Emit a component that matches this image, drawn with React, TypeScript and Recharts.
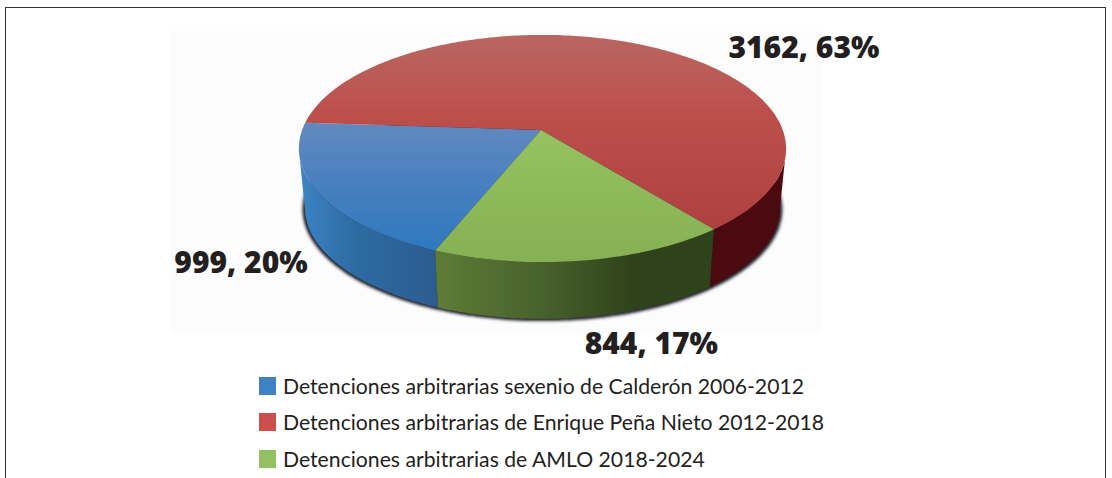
import React from 'react';
import { PieChart, Pie, Cell, Legend } from 'recharts';

const seriesNames = [
  'Detenciones arbitrarias sexenio de Calderón 2006-2012',
  'Detenciones arbitrarias de Enrique Peña Nieto 2012-2018',
  'Detenciones arbitrarias de AMLO 2018-2024',
];
const seriesValues = [999, 3162, 844];
const swatchColors = ['#3f82c4', '#cb4f4b', '#93c160'];

const data = seriesNames.map((name, i) => ({ name, value: seriesValues[i] }));

// tilt of the disc: perspective factors and the two projected radii, per unit of radius
const PERSP = 0.163;
const PERSP_X = -0.006;
const KX = 0.993;
const KY = 0.457;
const WALL = 60;
const WALL_SCALE = 0.975;

const TOP_FILL = ['url(#topBlue)', 'url(#topRed)', 'url(#topGreen)'];
const WALL_FILL = ['url(#wallBlue)', '#4a0a10', 'url(#wallGreen)'];
const LABEL_SHIFT = [
  [-145, 79],
  [90, 14],
  [2, 93],
];

const project = (cx: number, cy: number, r: number, deg: number) => {
  const a = (deg * Math.PI) / 180;
  const d = 1 + PERSP * Math.sin(a) + PERSP_X * Math.cos(a);
  return { x: cx + (r * KX * Math.cos(a)) / d, y: cy - (r * KY * Math.sin(a)) / d };
};

const arcPoints = (start: number, end: number) => {
  const n = Math.max(2, Math.ceil(Math.abs(end - start)));
  return Array.from({ length: n + 1 }, (_, i) => start + ((end - start) * i) / n);
};

const toPath = (pts: { x: number; y: number }[]) =>
  'M' + pts.map((p) => `${p.x.toFixed(1)},${p.y.toFixed(1)}`).join('L') + 'Z';

const Slice3D = (props: any) => {
  const { cx, cy, outerRadius: r, startAngle, endAngle, index } = props;
  const angles = arcPoints(startAngle, endAngle);
  const rim = angles.map((a) => project(cx, cy, r, a));
  const top = toPath([{ x: cx, y: cy }, ...rim]);

  const front = angles.filter((a) => Math.sin((a * Math.PI) / 180) < -PERSP);
  const lower = (a: number) => project(cx, cy + WALL, r * WALL_SCALE, a);
  const wall = front.length
    ? toPath([...front.map((a) => project(cx, cy, r, a)), ...[...front].reverse().map(lower)])
    : null;

  const shadow =
    index === 0
      ? toPath(arcPoints(0, 360).map((a) => project(cx, cy + WALL + 1, r * 0.985, a)))
      : null;

  return (
    <g>
      {shadow && <path d={shadow} fill="#20222e" filter="url(#soft)" />}
      {wall && <path d={wall} fill={WALL_FILL[index]} />}
      <path d={top} fill={TOP_FILL[index]} />
    </g>
  );
};

const renderLabel = (props: any) => {
  const { cx, cy, outerRadius, midAngle, value, percent, index } = props;
  const p = project(cx, cy, outerRadius, midAngle);
  return (
    <text
      x={p.x + LABEL_SHIFT[index][0]}
      y={p.y + LABEL_SHIFT[index][1]}
      textAnchor="start"
      fontFamily="'Open Sans', sans-serif"
      fontWeight={800}
      fontSize={30}
      fill="#231f20"
    >
      {`${value}, ${Math.round(percent * 100)}%`}
    </text>
  );
};

const renderLegend = () => (
  <div>
    {seriesNames.map((name, i) => (
      <div key={name} style={{ display: 'flex', alignItems: 'center', height: 36.3 }}>
        <span
          style={{
            width: 17,
            height: 18,
            marginRight: 7,
            flex: 'none',
            background: swatchColors[i],
          }}
        />
        <span
          style={{
            fontFamily: "'Lato', sans-serif",
            fontSize: 21.2,
            color: '#231f20',
            whiteSpace: 'nowrap',
          }}
        >
          {name}
        </span>
      </div>
    ))}
  </div>
);

export default function App() {
  return (
    <div style={{ position: 'absolute', left: 0, top: 0, width: 1112, height: 478, background: '#fff' }}>
      <div
        style={{
          position: 'absolute',
          left: 5,
          top: 7,
          width: 1099,
          height: 471,
          borderTop: '1.5px solid #333',
          borderLeft: '1.5px solid #333',
          borderRight: '1.5px solid #333',
        }}
      />
      <div style={{ position: 'absolute', left: 171, top: 31, width: 651, height: 302, background: '#fcfcfc' }} />
      <div style={{ position: 'absolute', left: 0, top: 0 }}>
        <PieChart width={1112} height={478} margin={{ top: 0, right: 0, bottom: 0, left: 0 }}>
          <defs>
            <filter id="soft" x="-5%" y="-5%" width="110%" height="110%">
              <feGaussianBlur stdDeviation="1.4" />
            </filter>
            <linearGradient id="topBlue" gradientUnits="userSpaceOnUse" x1="0" y1="120" x2="0" y2="250">
              <stop offset="0" stopColor="#6389bf" />
              <stop offset="0.5" stopColor="#4880c0" />
              <stop offset="1" stopColor="#2f79bd" />
            </linearGradient>
            <linearGradient id="topRed" gradientUnits="userSpaceOnUse" x1="0" y1="36" x2="0" y2="230">
              <stop offset="0" stopColor="#b96662" />
              <stop offset="0.4" stopColor="#bd4f4b" />
              <stop offset="1" stopColor="#ae4140" />
            </linearGradient>
            <linearGradient id="topGreen" gradientUnits="userSpaceOnUse" x1="0" y1="130" x2="0" y2="263">
              <stop offset="0" stopColor="#96c260" />
              <stop offset="1" stopColor="#86b054" />
            </linearGradient>
            <linearGradient id="wallBlue" gradientUnits="userSpaceOnUse" x1="300" y1="0" x2="437" y2="0">
              <stop offset="0" stopColor="#3c84c4" />
              <stop offset="0.4" stopColor="#2d6ba3" />
              <stop offset="1" stopColor="#2c5c8f" />
            </linearGradient>
            <linearGradient id="wallGreen" gradientUnits="userSpaceOnUse" x1="436" y1="0" x2="712" y2="0">
              <stop offset="0" stopColor="#5f7c37" />
              <stop offset="0.4" stopColor="#46602b" />
              <stop offset="0.72" stopColor="#2e4319" />
              <stop offset="1" stopColor="#2e4319" />
            </linearGradient>
          </defs>
          <Pie
            data={data}
            dataKey="value"
            nameKey="name"
            cx={541}
            cy={130}
            outerRadius={242}
            startAngle={248}
            endAngle={-112}
            paddingAngle={0}
            stroke="none"
            shape={Slice3D}
            label={renderLabel}
            labelLine={false}
            isAnimationActive={false}
          >
            {data.map((d, i) => (
              <Cell key={d.name} fill={swatchColors[i]} />
            ))}
          </Pie>
          <Legend
            layout="horizontal"
            align="left"
            verticalAlign="bottom"
            content={renderLegend}
            wrapperStyle={{ left: 259, top: 368, bottom: 'auto', width: 600 }}
          />
        </PieChart>
      </div>
    </div>
  );
}
